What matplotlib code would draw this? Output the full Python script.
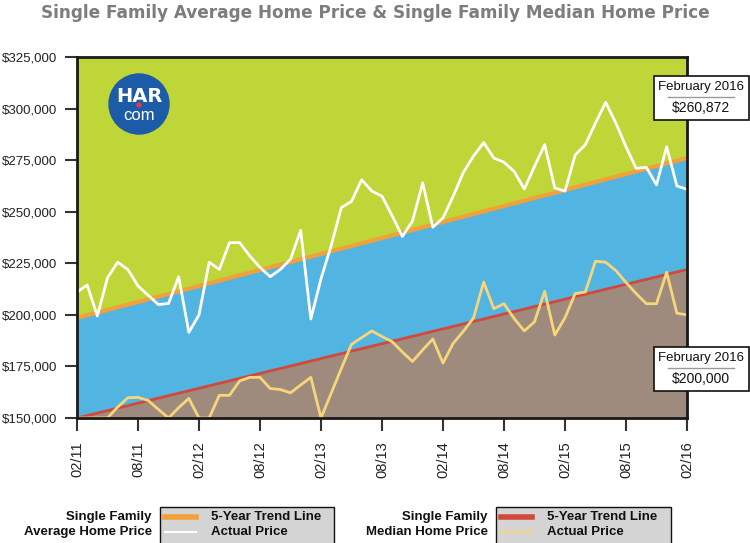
import matplotlib
matplotlib.use("Agg")
import matplotlib.pyplot as plt
from matplotlib.patches import Rectangle, Ellipse
from matplotlib.lines import Line2D

# monthly values Feb 2011 .. Feb 2016
avg_price = [211000, 214500, 199500, 218000, 225500, 222000, 214000, 209500, 205000, 205500,
             218500, 191500, 200000, 225500, 222000, 235000, 235000, 228500, 223000, 218500,
             222000, 227000, 241000, 198000, 217500, 233500, 252000, 255000, 265500, 260000,
             257500, 248000, 238000, 245500, 264000, 242500, 247000, 257500, 269000, 277000,
             283500, 276000, 274000, 269500, 261000, 272000, 282500, 261500, 260000, 277500,
             282500, 293000, 303000, 293000, 281500, 271000, 271500, 263000, 281500, 262500,
             260872]
median_price = [150000, 150000, 150000, 150000, 155300, 159800, 160000, 158500, 154200, 150000,
                155000, 159500, 150000, 150000, 161000, 161000, 168000, 169700, 169700, 164300,
                163800, 162200, 166000, 169700, 150000, 162000, 174000, 185700, 189000, 192200,
                189500, 187000, 182000, 177400, 183000, 188300, 176600, 186200, 192000, 198500,
                215900, 203000, 205400, 198200, 192200, 196600, 211400, 190200, 198600, 210300,
                211100, 226000, 225500, 221500, 215700, 210300, 205400, 205400, 220700, 200800,
                200000]
# 5-year trend lines, start and end value
avg_trend = [198500, 276000]
median_trend = [150000, 222000]

tick_labels = ['02/11', '08/11', '02/12', '08/12', '02/13', '08/13',
               '02/14', '08/14', '02/15', '08/15', '02/16']
y_ticks = [150000, 175000, 200000, 225000, 250000, 275000, 300000, 325000]

W, H = 750, 543
fig = plt.figure(figsize=(W / 100, H / 100), dpi=100)
fig.patch.set_facecolor('white')


def fx(px):
    return px / W


def fy(py):
    return 1 - py / H


ax = fig.add_axes([fx(77), fy(418), fx(687) - fx(77), fy(57) - fy(418)])

months = list(range(len(avg_price)))
trend_x = [0, len(avg_price) - 1]
ymin, ymax = 150000, 325000

ax.fill_between(trend_x, avg_trend, [ymax, ymax], color='#bed638', lw=0)
ax.fill_between(trend_x, median_trend, avg_trend, color='#52b4e0', lw=0)
ax.fill_between(trend_x, [ymin, ymin], median_trend, color='#9f8b7e', lw=0)

ax.plot(trend_x, avg_trend, color='#f2a03a', lw=3, solid_capstyle='butt')
ax.plot(trend_x, median_trend, color='#d2483c', lw=2, solid_capstyle='butt')
ax.plot(months, avg_price, color='white', lw=2)
ax.plot(months, median_price, color='#f7d67a', lw=2)

ax.set_xlim(0, len(avg_price) - 1)
ax.set_ylim(ymin, ymax)
ax.set_xticks(range(0, len(avg_price), 6))
ax.set_xticklabels(tick_labels, rotation=90, fontsize=10.5, family='Liberation Sans')
ax.set_yticks(y_ticks)
ax.set_yticklabels(['${:,}'.format(v) for v in y_ticks], fontsize=9.5, family='Liberation Sans')
ax.tick_params(axis='both', length=9, width=1.5, color='#333333', labelcolor='#222222', pad=5)
ax.tick_params(axis='x', pad=8)
for s in ax.spines.values():
    s.set_linewidth(2)
    s.set_color('#1a1a1a')

# title
fig.text(0.5, fy(13), 'Single Family Average Home Price & Single Family Median Home Price',
         ha='center', va='center', fontsize=12.2, fontweight='bold', color='#7d7d7d',
         family='DejaVu Sans')

# logo
fig.patches.append(Ellipse((fx(139), fy(104)), 60 / W, 60 / H, transform=fig.transFigure,
                           color='#1c5ba8', zorder=5))
fig.text(fx(139), fy(96), 'HAR', ha='center', va='center', color='white', fontsize=14,
         fontweight='heavy', family='DejaVu Sans', zorder=6)
fig.text(fx(139), fy(116), 'com', ha='center', va='center', color='white', fontsize=12,
         family='Liberation Sans', zorder=6)
fig.patches.append(Ellipse((fx(139), fy(105)), 4 / W, 4 / H, transform=fig.transFigure,
                           color='#e03a45', zorder=7))


# callout boxes
def callout(top, value):
    fig.patches.append(Rectangle((fx(654), fy(top + 44)), (749 - 654) / W, 44 / H,
                                 transform=fig.transFigure, facecolor='white',
                                 edgecolor='#111111', lw=1.2, zorder=8))
    fig.text(fx(701), fy(top + 11), 'February 2016', ha='center', va='center', fontsize=9.5,
             family='Liberation Sans', color='#111111', zorder=9)
    fig.lines.append(Line2D([fx(668), fx(734)], [fy(top + 21), fy(top + 21)],
                            transform=fig.transFigure, color='#999999', lw=1, zorder=9))
    fig.text(fx(701), fy(top + 32), value, ha='center', va='center', fontsize=10,
             family='Liberation Sans', color='#111111', zorder=9)


callout(76, '${:,}'.format(avg_price[-1]))
callout(347, '${:,}'.format(median_price[-1]))

# legends
legend_font = 'Liberation Sans'


def legend_block(box_left, box_right, name, trend_color, actual_color):
    fig.patches.append(Rectangle((fx(box_left), fy(546)), (box_right - box_left) / W, 39 / H,
                                 transform=fig.transFigure, facecolor='#d4d4d4',
                                 edgecolor='#111111', lw=1))
    fig.text(fx(box_left - 8), fy(517), 'Single Family', ha='right', va='center',
             fontsize=9.5, fontweight='bold', family=legend_font, color='#111111')
    fig.text(fx(box_left - 8), fy(532), name, ha='right', va='center',
             fontsize=9.5, fontweight='bold', family=legend_font, color='#111111')
    fig.lines.append(Line2D([fx(box_left + 5), fx(box_left + 36)], [fy(517), fy(517)],
                            transform=fig.transFigure, color=trend_color, lw=4))
    fig.lines.append(Line2D([fx(box_left + 5), fx(box_left + 36)], [fy(532), fy(532)],
                            transform=fig.transFigure, color=actual_color, lw=1.5))
    fig.text(fx(box_left + 51), fy(517), '5-Year Trend Line', ha='left', va='center',
             fontsize=9.5, fontweight='bold', family=legend_font, color='#111111')
    fig.text(fx(box_left + 51), fy(532), 'Actual Price', ha='left', va='center',
             fontsize=9.5, fontweight='bold', family=legend_font, color='#111111')


legend_block(160, 334, 'Average Home Price', '#f2a03a', 'white')
legend_block(496, 671, 'Median Home Price', '#d2483c', '#f7d67a')

fig.savefig('out.png', dpi=100)
